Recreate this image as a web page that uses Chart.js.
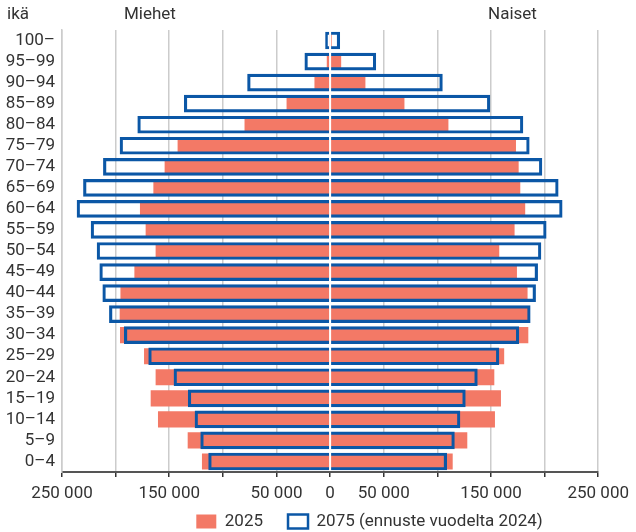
<!DOCTYPE HTML>
<html>
<head>
    <meta charset="utf-8">
    <script src="https://cdn.jsdelivr.net/npm/chart.js"></script>
    <style>
        body {
            margin: 0;
            background: white;
        }
        .chart-box {
            width: 636px;
            height: 532px;
            position: relative;
        }
    </style>
</head>
<body>
    <div class="chart-box">
        <canvas id="pyramid"></canvas>
    </div>

    <script>
        // age groups, top to bottom
        const ageGroups = ['100–', '95–99', '90–94', '85–89', '80–84', '75–79', '70–74', '65–69', '60–64', '55–59',
            '50–54', '45–49', '40–44', '35–39', '30–34', '25–29', '20–24', '15–19', '10–14', '5–9', '0–4'];

        const men2025 = [300, 2800, 14300, 40300, 79500, 141900, 154000, 164500, 177000, 171700,
            162400, 182200, 195200, 195900, 195600, 173200, 162400, 167000, 160200, 132500, 119200];
        const women2025 = [1200, 10000, 32600, 69000, 110000, 173000, 175500, 177000, 181600, 171700,
            157400, 173900, 183800, 184500, 184500, 162000, 152800, 159000, 153400, 127600, 114000];
        const men2075 = [4300, 23600, 77000, 136000, 179400, 195900, 211400, 230000, 236000, 222900,
            217300, 214800, 212000, 205800, 191900, 169200, 145600, 132300, 126000, 120700, 113300];
        const women2075 = [9000, 42600, 104700, 149000, 179800, 185700, 197500, 212700, 216400, 201500,
            196600, 193500, 191600, 186600, 176000, 157400, 137300, 126100, 121100, 115900, 108700];

        const label2025 = '2025';
        const label2075 = '2075 (ennuste vuodelta 2024)';

        const salmon = '#f37966';
        const blue = '#0b57a6';
        const textColor = '#333333';
        const fontFamily = 'Roboto, sans-serif';

        Chart.defaults.font.family = fontFamily;
        Chart.defaults.font.size = 17;
        Chart.defaults.color = textColor;

        function formatNum(v) {
            return String(Math.abs(v)).replace(/\B(?=(\d{3})+(?!\d))/g, ' ');
        }

        const neg = arr => arr.map(v => -v);

        // white line at zero, side titles, legend nudge
        const extras = {
            id: 'extras',
            afterLayout(chart) {
                const lg = chart.legend;
                if (!lg) return;
                lg.left += 70;
                lg.right += 70;
                lg.top -= 16;
                lg.bottom -= 16;
            },
            afterDatasetsDraw(chart) {
                const {ctx, chartArea, scales} = chart;
                const x0 = scales.x.getPixelForValue(0);
                ctx.save();
                ctx.strokeStyle = 'white';
                ctx.lineWidth = 2;
                ctx.beginPath();
                ctx.moveTo(x0, chartArea.top);
                ctx.lineTo(x0, chartArea.bottom - 1);
                ctx.stroke();
                ctx.restore();
            },
            afterDraw(chart) {
                const {ctx, scales} = chart;
                ctx.save();
                ctx.fillStyle = textColor;
                ctx.font = '17px ' + fontFamily;
                ctx.textBaseline = 'middle';
                ctx.textAlign = 'left';
                ctx.fillText('ikä', 7, 15);
                ctx.textAlign = 'center';
                ctx.fillText('Miehet', scales.x.getPixelForValue(-168000), 15);
                ctx.fillText('Naiset', scales.x.getPixelForValue(170000), 15);
                ctx.restore();
            }
        };

        const ctx = document.getElementById('pyramid').getContext('2d');
        const pyramid = new Chart(ctx, {
            type: 'bar',
            data: {
                labels: ageGroups,
                datasets: [
                    {
                        label: label2025,
                        data: women2025,
                        backgroundColor: salmon,
                        barThickness: 15.5,
                        grouped: false,
                        order: 2
                    },
                    {
                        label: label2025,
                        data: neg(men2025),
                        backgroundColor: salmon,
                        barThickness: 15.5,
                        grouped: false,
                        order: 2
                    },
                    {
                        label: label2075,
                        data: women2075,
                        backgroundColor: 'rgba(255,255,255,0)',
                        borderColor: blue,
                        borderWidth: 2.5,
                        borderSkipped: 'start',
                        barThickness: 17,
                        grouped: false,
                        order: 1
                    },
                    {
                        label: label2075,
                        data: neg(men2075),
                        backgroundColor: 'rgba(255,255,255,0)',
                        borderColor: blue,
                        borderWidth: 2.5,
                        borderSkipped: 'start',
                        barThickness: 17,
                        grouped: false,
                        order: 1
                    }
                ]
            },
            options: {
                indexAxis: 'y',
                responsive: true,
                maintainAspectRatio: false,
                animation: false,
                layout: {
                    padding: {top: 30, right: 37, left: 0, bottom: -24}
                },
                scales: {
                    x: {
                        min: -250000,
                        max: 250000,
                        ticks: {
                            stepSize: 50000,
                            autoSkip: false,
                            maxRotation: 0,
                            padding: 7,
                            callback: function (v) {
                                if (v === 0) return '0';
                                if (Math.abs(v) % 100000 === 50000) return formatNum(v);
                                return '';
                            }
                        },
                        grid: {
                            color: c => (c.tick && c.tick.value === 0) ? 'white' : '#cccccc',
                            lineWidth: 1.5,
                            tickColor: '#333333',
                            tickLength: 5
                        },
                        border: {
                            color: '#555555',
                            width: 2
                        },
                        afterFit: scale => { scale.height = 32; }
                    },
                    y: {
                        ticks: {
                            autoSkip: false,
                            padding: 7
                        },
                        grid: {
                            display: false,
                            drawTicks: false
                        },
                        border: {
                            color: '#cccccc',
                            width: 1.5
                        },
                        afterFit: scale => { scale.width = 62; }
                    }
                },
                plugins: {
                    legend: {
                        position: 'bottom',
                        labels: {
                            boxWidth: 20,
                            boxHeight: 14,
                            padding: 25,
                            color: textColor,
                            filter: (item, data) => item.datasetIndex === 0 || item.datasetIndex === 2,
                            sort: (a, b) => a.datasetIndex - b.datasetIndex
                        }
                    },
                    tooltip: {enabled: false}
                }
            },
            plugins: [extras]
        });
    </script>
</body>
</html>
